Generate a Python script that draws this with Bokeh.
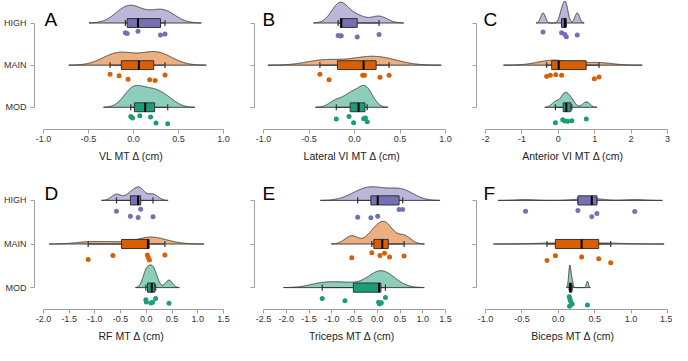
import numpy as np
from bokeh.plotting import figure
from bokeh.layouts import gridplot
from bokeh.models import FixedTicker, Label, Range1d
from bokeh.embed import file_html
from bokeh.resources import INLINE

# ---------------- data ----------------
groups = ["HIGH", "MAIN", "MOD"]
group_pos = [3, 2, 1]
colors = ["#7570b3", "#d95f02", "#1b9e77"]

# Panel A: VL MT change (cm)
vl_high = [-0.09, -0.07, 0.05, 0.30, 0.35]
vl_main = [-0.26, -0.16, -0.06, 0.18, 0.24, 0.35]
vl_mod = [-0.03, -0.01, 0.07, 0.19, 0.25, 0.38]
# Panel B: Lateral VI MT change (cm)
lat_high = [-0.18, -0.155, -0.145, 0.03, 0.27]
lat_main = [-0.38, -0.28, 0.09, 0.11, 0.28, 0.38]
lat_mod = [-0.20, -0.06, -0.01, 0.10, 0.12, 0.14]
# Panel C: Anterior VI MT change (cm)
ant_high = [-0.42, 0.09, 0.18, 0.22, 0.52]
ant_main = [-0.32, -0.22, -0.07, 0.09, 0.99, 1.12]
ant_mod = [-0.08, 0.12, 0.18, 0.26, 0.37, 0.77]
# Panel D: RF MT change (cm)
rf_high = [-0.58, -0.31, -0.16, -0.11, 0.13]
rf_main = [-1.13, -0.65, 0.02, 0.04, 0.06, 0.36]
rf_mod = [-0.01, 0.0, 0.09, 0.12, 0.18, 0.44]
# Panel E: Triceps MT change (cm)
tri_high = [-0.43, -0.14, 0.01, 0.48, 0.56]
tri_main = [-0.56, -0.12, 0.06, 0.16, 0.27, 0.59]
tri_mod = [-1.21, -0.71, 0.03, 0.05, 0.09, 0.18]
# Panel F: Biceps MT change (cm)
bic_high = [-0.45, 0.27, 0.46, 0.53, 1.05]
bic_main = [-0.155, -0.04, 0.32, 0.555, 0.72]
bic_mod = [0.15, 0.155, 0.16, 0.17, 0.19, 0.40]

# vertical "rain" drop of each dot below its group line, as read (px)
vl_high_drop = [10, 10.7, 8.3, 12.3, 11.3]
vl_main_drop = [9.3, 10.7, 14.3, 15, 15.7, 10]
vl_mod_drop = [9.3, 11, 8.7, 10, 16, 16.7]
lat_high_drop = [12.7, 13.3, 13, 14.3, 11.7]
lat_main_drop = [9.3, 15, 10.3, 10.3, 12.3, 10.3]
lat_mod_drop = [12, 9.3, 15.7, 11.7, 11, 14.7]
ant_high_drop = [9.3, 10, 11.7, 14, 12.3]
ant_main_drop = [11.7, 10.3, 9.7, 10.3, 14, 12]
ant_mod_drop = [15.7, 12.7, 14, 14.3, 13.7, 12]
rf_high_drop = [11, 16, 17.3, 9, 16.7]
rf_main_drop = [15.7, 11.7, 11.3, 14, 16.3, 11.3]
rf_mod_drop = [12.3, 14.7, 15.7, 15, 11, 16]
tri_high_drop = [17, 17.7, 16, 9.3, 9.3]
tri_main_drop = [14, 9, 11.7, 9.3, 13.3, 12.3]
tri_mod_drop = [11, 13.3, 15, 16.7, 15.3, 10]
bic_high_drop = [11, 10.3, 16.7, 13.3, 11.3]
bic_main_drop = [16.7, 12, 13.3, 15, 19]
bic_mod_drop = [9.3, 19, 11.7, 14, 16.7, 17.7]

ticks_ab = [-1.0, -0.5, 0.0, 0.5, 1.0]
labels_ab = ["-1.0", "-0.5", "0.0", "0.5", "1.0"]
ticks_c = [-2, -1, 0, 1, 2, 3]
labels_c = ["-2", "-1", "0", "1", "2", "3"]
ticks_d = [-2.0, -1.5, -1.0, -0.5, 0.0, 0.5, 1.0, 1.5]
labels_d = ["-2.0", "-1.5", "-1.0", "-0.5", "0.0", "0.5", "1.0", "1.5"]
ticks_e = [-2.5, -2.0, -1.5, -1.0, -0.5, 0.0, 0.5, 1.0, 1.5]
labels_e = ["-2.5", "-2.0", "-1.5", "-1.0", "-0.5", "0.0", "0.5", "1.0", "1.5"]
ticks_f = [-1.0, -0.5, 0.0, 0.5, 1.0, 1.5]
labels_f = ["-1.0", "-0.5", "0.0", "0.5", "1.0", "1.5"]

titles = ["VL MT Δ (cm)", "Lateral VI MT Δ (cm)", "Anterior VI MT Δ (cm)",
          "RF MT Δ (cm)", "Triceps MT Δ (cm)", "Biceps MT Δ (cm)"]
letters = ["A", "B", "C", "D", "E", "F"]

# ---------------- stats helpers ----------------
def bw_nrd0(x):
    x = np.asarray(x, float)
    sd = np.std(x, ddof=1)
    q25, q75 = np.percentile(x, [25, 75])
    lo = min(sd, (q75 - q25) / 1.34)
    if lo <= 0:
        lo = sd
    return 0.9 * lo * len(x) ** -0.2

def kde(x, n=512, cut=3):
    x = np.asarray(x, float)
    bw = bw_nrd0(x)
    grid = np.linspace(x.min() - cut * bw, x.max() + cut * bw, n)
    d = np.exp(-0.5 * ((grid[:, None] - x[None, :]) / bw) ** 2).sum(1)
    d /= len(x) * bw * np.sqrt(2 * np.pi)
    return grid, d

def box_stats(x):
    x = np.sort(np.asarray(x, float))
    q1, med, q3 = np.percentile(x, [25, 50, 75])
    iqr = q3 - q1
    lo = x[x >= q1 - 1.5 * iqr].min()
    hi = x[x <= q3 + 1.5 * iqr].max()
    return q1, med, q3, lo, hi

# ---------------- layout / style ----------------
FONT = "Liberation Sans"
AXIS_COL = "#a0a0a0"
LINE_COL = "#333333"
VIOLIN_H = 0.52
BOX_H = 0.105
CAP_H = 0.07

cols = [dict(width=244, left=32, right=16, pad_l=9, pad_r=5, ldx=10),
        dict(width=222, left=10, right=17, pad_l=9, pad_r=4, ldx=8),
        dict(width=206, left=10, right=3, pad_l=9, pad_r=2, ldx=7)]
rows = [dict(height=167, frame_h=129, pad_t=22.5, pad_b=22.2, drop_ppu=43.0, ldy=18.5),
        dict(height=178, frame_h=142, pad_t=32.9, pad_b=21.9, drop_ppu=44.3, ldy=25.6)]

panels = [
    ([vl_high, vl_main, vl_mod], [vl_high_drop, vl_main_drop, vl_mod_drop], ticks_ab, labels_ab),
    ([lat_high, lat_main, lat_mod], [lat_high_drop, lat_main_drop, lat_mod_drop], ticks_ab, labels_ab),
    ([ant_high, ant_main, ant_mod], [ant_high_drop, ant_main_drop, ant_mod_drop], ticks_c, labels_c),
    ([rf_high, rf_main, rf_mod], [rf_high_drop, rf_main_drop, rf_mod_drop], ticks_d, labels_d),
    ([tri_high, tri_main, tri_mod], [tri_high_drop, tri_main_drop, tri_mod_drop], ticks_e, labels_e),
    ([bic_high, bic_main, bic_mod], [bic_high_drop, bic_main_drop, bic_mod_drop], ticks_f, labels_f),
]

figs = []
for i, (vals, drops, ticks, tlabels) in enumerate(panels):
    c = cols[i % 3]
    r = rows[i // 3]
    frame_w = c["width"] - c["left"] - c["right"]
    ppx = (frame_w - c["pad_l"] - c["pad_r"]) / (ticks[-1] - ticks[0])
    x0 = ticks[0] - c["pad_l"] / ppx
    x1 = ticks[-1] + c["pad_r"] / ppx
    ppy = (r["frame_h"] - r["pad_t"] - r["pad_b"]) / 2.0
    y1 = 3 + r["pad_t"] / ppy
    y0 = 1 - r["pad_b"] / ppy

    p = figure(width=c["width"], height=r["height"],
               x_range=Range1d(x0, x1), y_range=Range1d(y0, y1),
               output_backend="svg", toolbar_location=None,
               min_border_left=c["left"], min_border_right=c["right"],
               min_border_top=0, min_border_bottom=r["height"] - r["frame_h"])
    p.outline_line_color = None
    p.xgrid.visible = False
    p.ygrid.visible = False
    p.background_fill_color = "white"
    p.border_fill_color = "white"

    dens = [kde(v) for v in vals]
    dmax = max(d.max() for _, d in dens)
    for v, dr, (gx, d), yc, col in zip(vals, drops, dens, group_pos, colors):
        xs = np.concatenate([gx, [gx[-1], gx[0]]])
        ys = np.concatenate([yc + d / dmax * VIOLIN_H, [yc, yc]])
        p.patch(xs, ys, fill_color=col, fill_alpha=0.5,
                line_color=LINE_COL, line_width=0.9)
        q1, med, q3, lo, hi = box_stats(v)
        p.segment(x0=[lo, q3], y0=[yc, yc], x1=[q1, hi], y1=[yc, yc],
                  line_color=LINE_COL, line_width=1)
        p.segment(x0=[lo, hi], y0=[yc - CAP_H] * 2, x1=[lo, hi], y1=[yc + CAP_H] * 2,
                  line_color=LINE_COL, line_width=1.2)
        p.quad(left=[q1], right=[q3], bottom=[yc - BOX_H], top=[yc + BOX_H],
               fill_color=col, line_color=LINE_COL, line_width=1)
        p.segment(x0=[med], y0=[yc - BOX_H], x1=[med], y1=[yc + BOX_H],
                  line_color="black", line_width=2)
        p.scatter(x=v, y=yc - np.array(dr) / r["drop_ppu"], size=5,
                  fill_color=col, line_color=None)

    xa = p.xaxis[0]
    xa.ticker = FixedTicker(ticks=ticks)
    xa.major_label_overrides = {t: s for t, s in zip(ticks, tlabels)}
    xa.bounds = (ticks[0], ticks[-1])
    xa.axis_label = titles[i]
    xa.axis_label_text_font = FONT
    xa.axis_label_text_font_size = "10.5px"
    xa.axis_label_text_font_style = "normal"
    xa.axis_label_text_color = "#222222"
    xa.axis_label_standoff = 5
    xa.major_label_text_font = FONT
    xa.major_label_text_font_size = "9px"
    xa.major_label_text_color = "#333333"
    xa.major_label_standoff = 2
    xa.axis_line_color = AXIS_COL
    xa.major_tick_line_color = AXIS_COL
    xa.major_tick_out = 4
    xa.major_tick_in = 0
    xa.minor_tick_line_color = None

    ya = p.yaxis[0]
    ya.ticker = FixedTicker(ticks=group_pos)
    ya.bounds = (1, 3)
    if i % 3 == 0:
        ya.major_label_overrides = {pos: g for pos, g in zip(group_pos, groups)}
    else:
        ya.major_label_overrides = {pos: "" for pos in group_pos}
    ya.major_label_text_font = FONT
    ya.major_label_text_font_size = "9px"
    ya.major_label_text_color = "#333333"
    ya.major_label_standoff = 4
    ya.axis_line_color = AXIS_COL
    ya.major_tick_line_color = AXIS_COL
    ya.major_tick_out = 4
    ya.major_tick_in = 0
    ya.minor_tick_line_color = None

    p.add_layout(Label(x=x0 + c["ldx"] / ppx, y=y1 - r["ldy"] / ppy, text=letters[i],
                       text_font=FONT, text_font_size="19px", text_color="black",
                       text_baseline="alphabetic", text_align="left"))
    figs.append(p)

grid = gridplot([figs[:3], figs[3:]], toolbar_location=None)
open("out.html", "w").write(file_html(grid, INLINE))
